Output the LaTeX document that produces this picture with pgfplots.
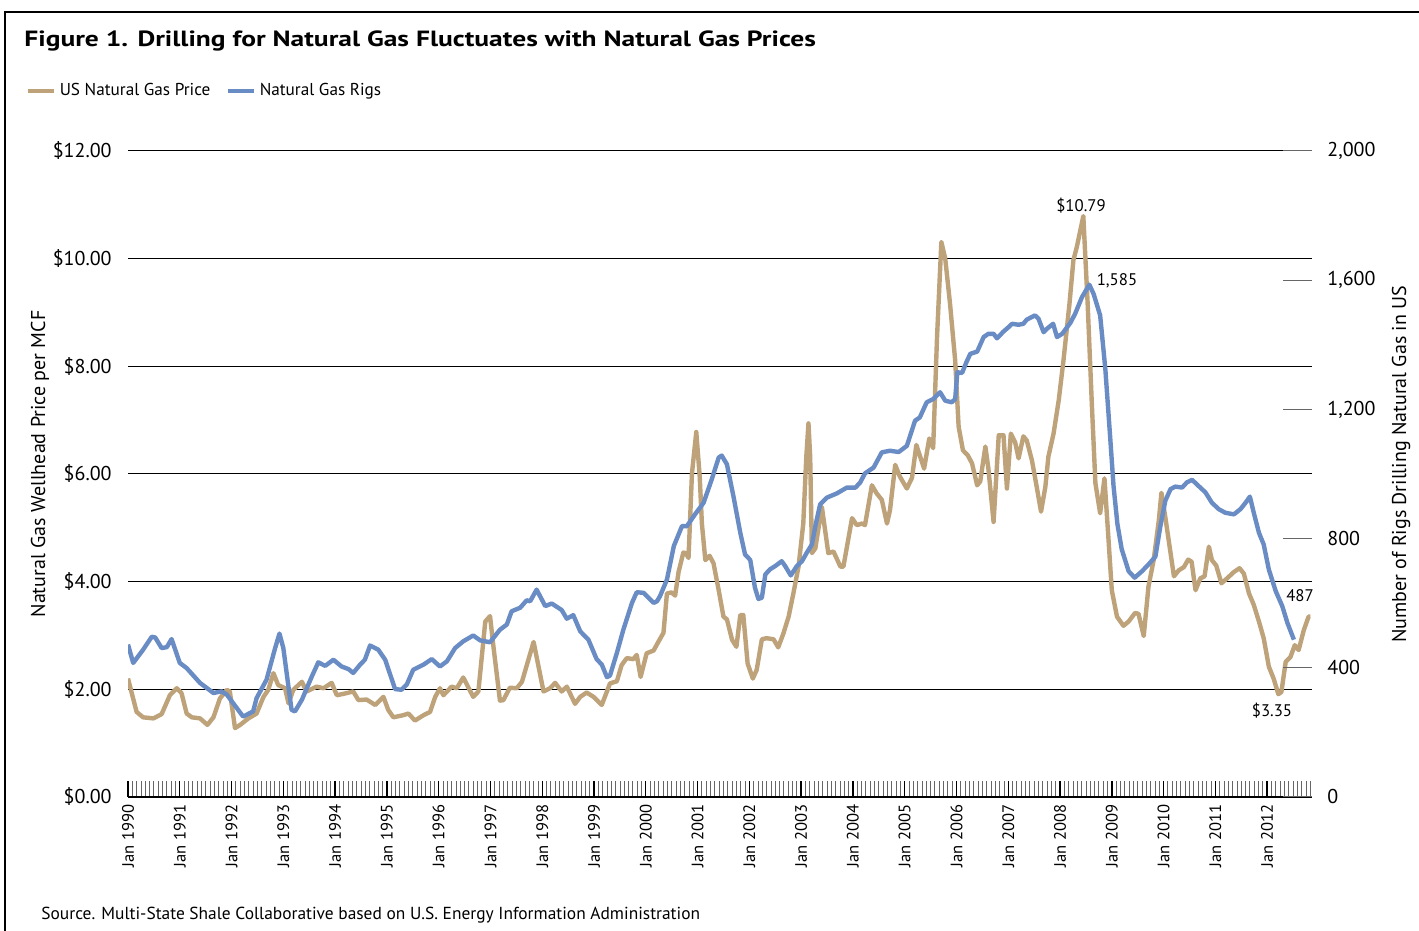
\documentclass[border=0pt]{standalone}
\usepackage{pgfplots}
\pgfplotsset{compat=1.18}
\usepackage{fontspec}
\setmainfont{PT Sans}
\newfontfamily\titlefont[FakeStretch=1.25]{PT Sans}
\definecolor{tanc}{RGB}{190,162,122}
\definecolor{bluec}{RGB}{106,140,196}
\newcommand{\fs}[1]{\fontsize{#1}{#1}\selectfont}
\begin{document}
\begin{tikzpicture}[x=0.5pt,y=0.5pt]
\useasboundingbox (0,0) rectangle (1419,931);
\draw[line width=0.8pt] (5,0) -- (5,919) -- (1419,919);
\node[anchor=base west,inner sep=0pt] at (24,884) {\titlefont\fs{11pt}\bfseries Figure 1. Drilling for Natural Gas Fluctuates with Natural Gas Prices};
\node[anchor=base west,inner sep=0pt] at (41,11) {\fs{8.7pt}Source. Multi-State Shale Collaborative based on U.S. Energy Information Administration};
\begin{axis}[
  at={(64pt,67pt)}, anchor=south west, scale only axis,
  width=592pt, height=323pt,
  xmin=0, xmax=274.4, ymin=0, ymax=12,
  axis x line*=bottom, x axis line style={-, line width=0.8pt},
  axis y line*=left, y axis line style={draw=none},
  ytick={0,2,...,12},
  yticklabels={\$0.00,\$2.00,\$4.00,\$6.00,\$8.00,\$10.00,\$12.00},
  yticklabel style={anchor=east, inner sep=0pt, xshift=-8pt, font=\fs{10pt}},
  ytick style={draw=none},
  ymajorgrids, grid style={black, line width=0.5pt},
  xtick={0,12,...,264},
  xticklabels={Jan 1990,Jan 1991,Jan 1992,Jan 1993,Jan 1994,Jan 1995,Jan 1996,Jan 1997,Jan 1998,Jan 1999,Jan 2000,Jan 2001,Jan 2002,Jan 2003,Jan 2004,Jan 2005,Jan 2006,Jan 2007,Jan 2008,Jan 2009,Jan 2010,Jan 2011,Jan 2012},
  xticklabel style={rotate=90, anchor=east, inner sep=3.5pt, font=\fs{8.3pt}},
  minor xtick={0,1,...,274},
  tick align=inside,
  major tick length=8pt, minor tick length=8pt,
  major x tick style={black, line width=0.7pt},
  minor x tick style={black!60, line width=0.4pt},
  ylabel={Natural Gas Wellhead Price per MCF},
  every axis y label/.style={at={(axis description cs:-0.0743,0.5155)}, rotate=90, anchor=center, font=\fs{10pt}},
  legend style={at={(axis description cs:-0.0870,1.0929)}, anchor=west, draw=none, fill=none, legend columns=2, inner sep=0pt, font=\fs{8.6pt},
    /tikz/every even column/.append style={column sep=5.5pt}},
  legend image code/.code={\draw[#1, line width=2.2pt] (0pt,0pt) -- (13pt,0pt);},
  legend cell align=left,
]
\addplot[tanc, line width=2.2pt, line join=round] coordinates {
(0,2.20) (2,1.58) (3.5,1.48) (5.9,1.46) (7.8,1.54) (9.7,1.89) (11.3,2.02) (12.4,1.93) (13.6,1.55) (14.8,1.48)
(16.7,1.46) (18.4,1.34) (19.8,1.48) (21.3,1.83) (22.9,1.99) (23.6,1.96) (24.8,1.28) (26,1.34) (27.9,1.46) (29.8,1.55)
(31.4,1.86) (32.5,1.99) (33.7,2.30) (34.8,2.08) (36.4,2.02) (37.2,1.74) (38.3,1.99) (40.3,2.14) (41.4,1.96) (43.7,2.05)
(45.3,2.02) (47.2,2.12) (48.4,1.89) (50.7,1.93) (52.2,1.96) (53.4,1.80) (55.3,1.81) (57.3,1.71) (59.2,1.86) (60.3,1.62)
(61.5,1.48) (63.8,1.52) (65,1.55) (66.5,1.42) (68.5,1.52) (70,1.58) (71.2,1.86) (72.3,2.02) (73.1,1.89) (75,2.05)
(76.2,2.02) (77.7,2.22) (80,1.86) (81.2,1.96) (82.8,3.26) (83.9,3.36) (84.7,2.79) (86.2,1.79) (87,1.80) (88.5,2.03)
(90.1,2.02) (91.3,2.14) (94,2.88) (96.3,1.96) (97.8,2.02) (99,2.12) (100.5,1.96) (101.7,2.05) (103.6,1.73) (104.8,1.86)
(106.3,1.94) (107.9,1.86) (109.8,1.71) (111.7,2.11) (113.3,2.15) (114.4,2.45) (115.6,2.58) (117.1,2.56) (117.9,2.64) (118.8,2.23)
(120.2,2.67) (121.8,2.72) (122.9,2.88) (124.1,3.05) (124.9,3.78) (126,3.80) (126.8,3.74) (127.6,4.18) (128.7,4.54) (129.3,4.53)
(129.9,4.44) (130.7,6.01) (131.7,6.78) (132.5,5.95) (133,5.08) (133.8,4.40) (134.8,4.48) (135.7,4.34) (136.9,3.84) (138,3.35)
(138.8,3.30) (140,2.92) (141,2.79) (141.9,3.38) (142.6,3.38) (143.6,2.48) (144.8,2.20) (145.7,2.36) (146.9,2.93) (148,2.95)
(149.6,2.93) (150.7,2.78) (151.9,3.04) (153.1,3.35) (154.2,3.78) (155.4,4.28) (156.5,5.08) (157.2,6.32) (157.7,6.94) (158.1,6.32)
(158.5,4.53) (159.3,4.62) (160.8,5.39) (162.3,4.53) (163.5,4.56) (165.1,4.28) (165.8,4.28) (167.8,5.18) (168.9,5.05) (170.1,5.08)
(170.8,5.05) (172.4,5.79) (173.5,5.64) (174.7,5.52) (175.9,5.08) (176.6,5.33) (177.8,6.17) (178.9,5.95) (180.5,5.73) (181.7,5.93)
(182.7,6.54) (184.5,6.10) (185.7,6.66) (186.6,6.48) (187.5,8.55) (188.5,10.31) (189.4,10.00) (190.5,9.17) (191.7,8.11) (192.5,6.88)
(193.5,6.44) (194.6,6.35) (195.6,6.20) (196.8,5.79) (197.5,5.86) (198.7,6.51) (199.4,6.10) (200.6,5.11) (201.8,6.72) (202.9,6.72)
(203.7,5.73) (204.6,6.75) (205.6,6.59) (206.4,6.29) (207.5,6.70) (208.3,6.62) (209.5,6.25) (210.6,5.76) (211.6,5.30) (212.6,5.76)
(213.3,6.32) (214.5,6.75) (215.7,7.37) (216.8,8.11) (218.2,9.17) (219.1,9.97) (219.9,10.22) (221.4,10.79) (222.4,9.17) (223.4,7.25)
(224.2,5.83) (225.3,5.27) (226.3,5.92) (227.2,4.83) (228,3.84) (229.2,3.35) (230.7,3.18) (231.9,3.26) (233.4,3.42) (234.2,3.40)
(235.4,2.99) (236.5,3.91) (237.7,4.40) (238.9,5.14) (239.5,5.65) (240.4,5.20) (241.4,4.65) (242.4,4.10) (243.5,4.21) (244.7,4.27)
(245.7,4.41) (246.5,4.37) (247.4,3.84) (248.5,4.06) (249.5,4.10) (250.5,4.65) (251.2,4.40) (252.2,4.30) (253.4,3.97) (254.7,4.06)
(256.3,4.18) (257.6,4.25) (258.6,4.15) (259.8,3.78) (260.9,3.57) (262.1,3.26) (263.2,2.95) (264.4,2.42) (265.5,2.20) (266.6,1.91)
(267.3,1.95) (268.3,2.51) (269.4,2.60) (270.4,2.82) (271.3,2.73) (272.5,3.10) (273.6,3.35) (274,3.35)
};
\addlegendentry{US Natural Gas Price}
\addlegendimage{bluec, line width=2.2pt}
\addlegendentry{Natural Gas Rigs}
\end{axis}
\begin{axis}[
  at={(64pt,67pt)}, anchor=south west, scale only axis,
  width=592pt, height=323pt,
  xmin=0, xmax=274.4, ymin=0, ymax=2000,
  axis x line=none,
  axis y line*=right, y axis line style={draw=none},
  ytick={0,400,...,2000},
  yticklabels={0,400,800,{1,200},{1,600},{2,000}},
  yticklabel style={anchor=west, inner sep=0pt, xshift=7.5pt, font=\fs{10pt}},
  tick align=inside, major tick length=14.5pt,
  ytick style={black!60, line width=0.5pt},
  ylabel={Number of Rigs Drilling Natural Gas in US},
  every axis y label/.style={at={(axis description cs:1.0752,0.515)}, rotate=90, anchor=center, font=\fs{10pt}},
]
\addplot[bluec, line width=2.2pt, line join=round] coordinates {
(0,472) (1.2,415) (3.5,456) (5.5,496) (6.3,494) (7.8,461) (9,464) (10.1,489) (12,415) (13.6,399)
(16.7,353) (19.8,322) (21.7,327) (22.9,317) (26.4,254) (26.7,249) (29,265) (29.8,306) (32.1,363) (34.1,461)
(35.1,506) (36,461) (37.9,270) (38.7,265) (40.3,301) (42.6,373) (44.1,417) (45.7,406) (47.6,425) (49.5,404)
(51.1,396) (52.2,384) (53.8,410) (54.9,425) (56.1,469) (58,456) (59.6,425) (61.9,334) (63.4,332) (64.6,348)
(66.1,394) (68.5,410) (70.4,427) (72.3,404) (73.9,420) (75.8,461) (77.7,482) (80,500) (81.6,485) (83.9,479)
(86.2,518) (87.8,534) (88.9,575) (90.9,586) (92.4,609) (93.2,606) (94.7,642) (96.7,591) (98.2,599) (100.5,579)
(101.7,552) (103.2,563) (104.8,513) (106.7,487) (108.6,427) (109.8,410) (111,371) (111.7,376) (113.3,446) (114.8,518)
(116.8,601) (117.9,634) (119.5,632) (121.8,601) (122.6,606) (123.3,622) (124.9,673) (126.5,777) (128.4,839) (129.5,838)
(131.4,875) (133.4,911) (135.3,984) (136.9,1051) (137.6,1057) (138.8,1030) (140.3,932) (141.9,818) (143,751) (144.2,734)
(145.3,648) (146.1,613) (146.9,617) (147.7,689) (148.8,705) (150,715) (151.5,730) (152.3,715) (153.6,686) (155,715)
(156.2,730) (157.3,756) (158.5,782) (159.3,839) (160.4,906) (162,927) (164.3,940) (166.6,958) (168.6,958) (169.7,974)
(170.8,1002) (172.8,1020) (174.7,1067) (176.6,1072) (178.6,1068) (180.5,1087) (182.4,1165) (183.5,1175) (185.1,1222) (186.6,1232)
(188.2,1253) (189.4,1227) (190.9,1222) (191.7,1232) (192.2,1315) (193.3,1313) (194.3,1346) (195.2,1372) (196.8,1379) (198.3,1424)
(199.4,1434) (200.6,1434) (201.4,1420) (202.9,1441) (204.1,1455) (204.9,1465) (206.4,1462) (207.5,1465) (208.3,1478) (210.2,1491)
(211,1481) (212.2,1439) (213,1450) (214.4,1465) (215.3,1424) (216.5,1434) (218.4,1468) (219.5,1496) (221.1,1548) (222.8,1586)
(223.8,1557) (225.3,1491) (226.5,1325) (227.6,1118) (228.4,963) (229.3,845) (230.3,767) (231.9,699) (233.3,679) (235,699)
(236.5,720) (238.1,744) (239.2,834) (240.4,917) (241.6,953) (242.7,961) (244.3,958) (245.4,974) (246.6,982) (248.1,963)
(249.7,943) (251.2,911) (252.8,891) (254.3,880) (256.3,875) (257.8,891) (259,911) (260,930) (260.9,880) (262.1,818)
(263.2,782) (264.4,704) (266,637) (267.5,591) (268.7,539) (270.2,487)
};
\end{axis}
\node[inner sep=0pt] at (1081,725) {\fs{8.4pt}\$10.79};
\node[inner sep=0pt] at (1117,650) {\fs{8.4pt}1,585};
\node[inner sep=0pt] at (1300,335) {\fs{8.4pt}487};
\node[inner sep=0pt] at (1272,220) {\fs{8.4pt}\$3.35};
\end{tikzpicture}
\end{document}
